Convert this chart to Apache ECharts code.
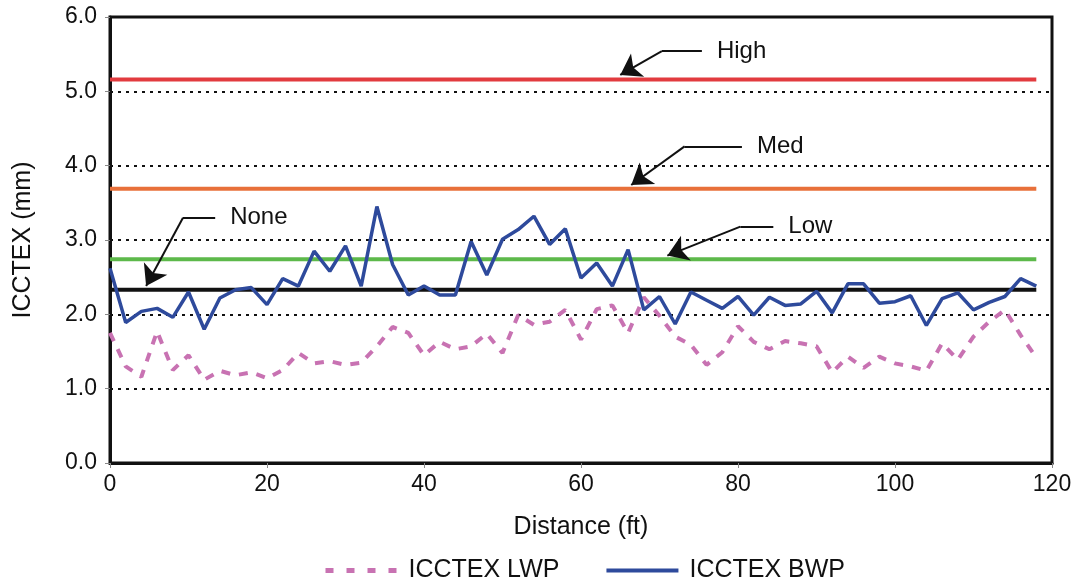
<!DOCTYPE html>
<html><head><meta charset="utf-8">
<script src="https://cdn.jsdelivr.net/npm/echarts@6/dist/echarts.min.js"></script>
<style>html,body{margin:0;padding:0;background:#fff}#c{width:1077px;height:588px}</style>
</head><body><div id="c"></div>
<script>
const distance = [];
for (let d = 0; d <= 118; d += 2) distance.push(d);
const bwp = [2.62,1.89,2.04,2.08,1.96,2.30,1.80,2.22,2.33,2.36,2.13,2.48,2.38,2.85,2.58,2.92,2.38,3.45,2.67,2.26,
             2.38,2.26,2.26,2.98,2.53,3.01,3.14,3.32,2.94,3.15,2.49,2.69,2.38,2.87,2.06,2.24,1.87,2.30,2.19,2.08,
             2.24,1.99,2.23,2.12,2.14,2.31,2.02,2.41,2.41,2.15,2.17,2.25,1.85,2.21,2.29,2.06,2.16,2.24,2.48,2.38];
const lwp = [1.75,1.30,1.16,1.77,1.25,1.45,1.12,1.24,1.18,1.22,1.14,1.25,1.48,1.34,1.37,1.32,1.35,1.57,1.83,1.75,
             1.45,1.63,1.53,1.57,1.74,1.48,1.99,1.86,1.90,2.06,1.66,2.07,2.12,1.75,2.23,1.98,1.70,1.59,1.32,1.49,
             1.84,1.63,1.53,1.64,1.61,1.57,1.22,1.43,1.28,1.43,1.34,1.30,1.24,1.61,1.39,1.70,1.90,2.06,1.72,1.42];
const thresholdNames = ['High','Med','Low','None'];
const thresholdValues = [5.16, 3.69, 2.74, 2.33];
const thresholdColors = ['#E23B3F','#E8703A','#5DB94A','#111111'];
// annotation callouts: label + elbow path (data coords): text anchor, elbow, arrow tip
const annoLabels = ['High','Med','None','Low'];
const annoPaths = [
  [[75.4,5.54],[70.3,5.54],[65.0,5.22]],
  [[80.5,4.26],[73.2,4.26],[66.4,3.74]],
  [[13.4,3.30],[9.3,3.30],[4.6,2.38]],
  [[84.5,3.18],[80.3,3.18],[71.0,2.79]]
];
const yTicks = ['0.0','1.0','2.0','3.0','4.0','5.0','6.0'];

const FONT = 'Liberation Sans, Arial, sans-serif';
const LWP_COLOR = '#C872B2', BWP_COLOR = '#2E4A9C';
const chart = echarts.init(document.getElementById('c'));
const zip = (xs, ys) => xs.map((x, i) => [x, ys[i]]);

const series = [];
thresholdValues.forEach((v, i) => {
  series.push({
    name: thresholdNames[i], type: 'line', data: [[0, v], [118, v]],
    symbol: 'none', lineStyle: {color: thresholdColors[i], width: 4}, z: 3, silent: true
  });
});
series.push({
  name: 'ICCTEX LWP', type: 'line', data: zip(distance, lwp), symbol: 'none',
  lineStyle: {color: LWP_COLOR, width: 4, type: [9, 9]}, itemStyle: {color: LWP_COLOR}, z: 4
});
series.push({
  name: 'ICCTEX BWP', type: 'line', data: zip(distance, bwp), symbol: 'none',
  lineStyle: {color: BWP_COLOR, width: 3.5}, itemStyle: {color: BWP_COLOR}, z: 5
});
series.push({
  type: 'lines', coordinateSystem: 'cartesian2d', silent: true,
  symbol: ['none', 'none'],
  lineStyle: {color: '#111', width: 2, opacity: 1},
  data: annoPaths.map(p => ({coords: [p[0], p[1]]})), z: 10
});
series.push({
  type: 'lines', coordinateSystem: 'cartesian2d', silent: true,
  symbol: ['none', 'arrow'], symbolSize: 20,
  lineStyle: {color: '#111', width: 2, opacity: 1},
  data: annoPaths.map(p => ({coords: [p[1], p[2]]})), z: 10
});

chart.setOption({
  animation: false,
  backgroundColor: '#fff',
  grid: {left: 110, right: 25, top: 17, bottom: 125, show: true, borderColor: '#111', borderWidth: 3},
  xAxis: {
    type: 'value', min: 0, max: 120, interval: 20,
    name: 'Distance (ft)', nameLocation: 'middle', nameGap: 52,
    nameTextStyle: {fontFamily: FONT, fontSize: 25, color: '#111'},
    axisLine: {lineStyle: {color: '#111', width: 3}},
    axisTick: {show: true, length: 5, lineStyle: {color: '#888', width: 1}},
    axisLabel: {fontFamily: FONT, fontSize: 23, color: '#111', margin: 10},
    splitLine: {show: false}
  },
  yAxis: {
    type: 'value', min: 0, max: 6, interval: 1,
    name: 'ICCTEX (mm)', nameLocation: 'middle', nameGap: 74,
    nameTextStyle: {fontFamily: FONT, fontSize: 25, color: '#111'},
    axisLine: {lineStyle: {color: '#111', width: 3}},
    axisTick: {show: true, length: 5, lineStyle: {color: '#888', width: 1}},
    axisLabel: {fontFamily: FONT, fontSize: 23, color: '#111', margin: 13,
                formatter: v => yTicks[Math.round(v)]},
    splitLine: {show: true, lineStyle: {color: '#111', width: 2, type: [3, 5]}}
  },
  legend: {
    bottom: 0, left: 318,
    itemWidth: 72, itemHeight: 14, itemGap: 45,
    textStyle: {fontFamily: FONT, fontSize: 25, color: '#111', padding: [0, 0, 0, 6]},
    data: [
      {name: 'ICCTEX LWP', itemStyle: {opacity: 0},
       lineStyle: {color: LWP_COLOR, width: 5, type: [8, 13]}},
      {name: 'ICCTEX BWP', itemStyle: {opacity: 0},
       lineStyle: {color: BWP_COLOR, width: 4, type: 'solid'}}
    ]
  },
  series: series
});

const graphics = annoPaths.map((p, i) => {
  const pt = chart.convertToPixel({gridIndex: 0}, p[0]);
  return {type: 'text', x: pt[0] + 15, y: pt[1], z: 20,
          style: {text: annoLabels[i], font: '24px ' + FONT, fill: '#111',
                  textAlign: 'left', textVerticalAlign: 'middle'}};
});
chart.setOption({graphic: graphics});
</script></body></html>
